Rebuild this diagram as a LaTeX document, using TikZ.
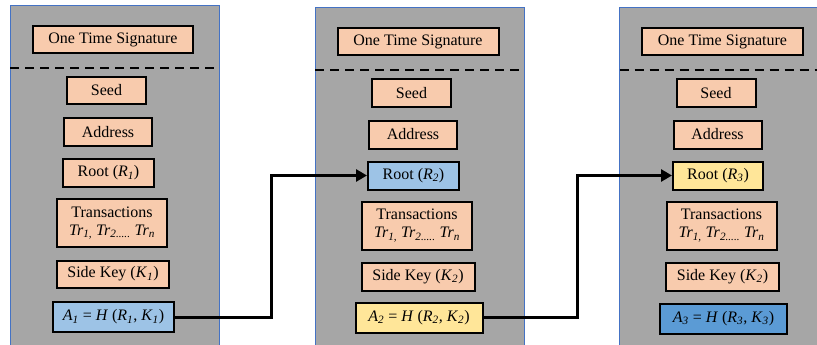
\documentclass[tikz,border=0pt]{standalone}
\usepackage{fontspec}
\setmainfont{Liberation Serif}
\usetikzlibrary{arrows.meta,calc}
\definecolor{gris}{HTML}{A6A6A6}
\definecolor{borde}{HTML}{4472C4}
\definecolor{salmon}{HTML}{F8CBAD}
\definecolor{celeste}{HTML}{9DC3E6}
\definecolor{amarillo}{HTML}{FFE699}
\definecolor{azul}{HTML}{5B9BD5}
\newcommand{\vsub}[2]{\textit{#1}\textsubscript{\textit{#2}}}
\tikzset{
  panel/.style={fill=gris,draw=borde,line width=0.8pt},
  caja/.style={draw=black,line width=2pt,fill=salmon,inner sep=0pt,minimum height=27pt,
    align=center,font=\fontsize{16}{18}\selectfont},
  corte/.style={line width=2pt,dash pattern=on 9pt off 6pt},
  flecha/.style={line width=3pt,-{Triangle[length=11pt,width=12pt]}}
}
\begin{document}
\begin{tikzpicture}[x=1pt,y=-1pt]
    \useasboundingbox (0,0) rectangle (817,345);
    \clip (0,0) rectangle (817,345);
    % Panel 1
    \begin{scope}[shift={(10,5)}]
      \draw[panel] (0,0) rectangle (209,350);
      \draw[corte] (0,63) -- (209,63);
      \node[caja,minimum width=160pt] (ots1) at (103,34.5) {One Time Signature};
      \node[caja,minimum width=79pt] (seed1) at (96.5,85.5) {Seed};
      \node[caja,minimum width=88pt,minimum height=28pt] (addr1) at (98,127) {Address};
      \node[caja,minimum width=91pt,minimum height=28pt] (root1) at (98.5,168) {Root (\vsub{R}{1})};
      \node[caja,minimum width=110pt,minimum height=48pt] (tr1) at (102,218) {Transactions\\\vsub{Tr}{1,} \vsub{Tr}{2.....} \vsub{Tr}{n}};
      \node[caja,minimum width=112pt] (key1) at (103,269) {Side Key (\vsub{K}{1})};
      \node[caja,fill=celeste,minimum width=121pt,minimum height=30pt] (hash1) at (103.5,312) {\vsub{A}{1} = \textit{H} (\vsub{R}{1}, \vsub{K}{1})};
    \end{scope}
    % Panel 2
    \begin{scope}[shift={(315,7.5)}]
      \draw[panel] (0,0) rectangle (209,350);
      \draw[corte] (0,62.5) -- (209,62.5);
      \node[caja,minimum width=161pt] (ots2) at (103,34.5) {One Time Signature};
      \node[caja,minimum width=79pt] (seed2) at (96.5,85.5) {Seed};
      \node[caja,minimum width=88pt,minimum height=28pt] (addr2) at (98,127) {Address};
      \node[caja,fill=celeste,minimum width=91pt,minimum height=28pt] (root2) at (98.5,168) {Root (\vsub{R}{2})};
      \node[caja,minimum width=110pt,minimum height=48pt] (tr2) at (102,218) {Transactions\\\vsub{Tr}{1,} \vsub{Tr}{2.....} \vsub{Tr}{n}};
      \node[caja,minimum width=113pt,minimum height=28pt] (key2) at (103,269) {Side Key (\vsub{K}{2})};
      \node[caja,fill=amarillo,minimum width=127pt,minimum height=30pt] (hash2) at (104,310) {\vsub{A}{2} = \textit{H} (\vsub{R}{2}, \vsub{K}{2})};
    \end{scope}
    % Panel 3
    \begin{scope}[shift={(619.5,7.5)}]
      \draw[panel] (0,0) rectangle (209,350);
      \draw[corte] (0,62.5) -- (209,62.5);
      \node[caja,minimum width=161pt] (ots3) at (103,34.5) {One Time Signature};
      \node[caja,minimum width=79pt] (seed3) at (96.5,85.5) {Seed};
      \node[caja,minimum width=88pt,minimum height=28pt] (addr3) at (98,127) {Address};
      \node[caja,fill=amarillo,minimum width=90pt,minimum height=28pt] (root3) at (98.5,168) {Root (\vsub{R}{3})};
      \node[caja,minimum width=110pt,minimum height=48pt] (tr3) at (102,218) {Transactions\\\vsub{Tr}{1,} \vsub{Tr}{2.....} \vsub{Tr}{n}};
      \node[caja,minimum width=113pt,minimum height=28pt] (key3) at (103,269) {Side Key (\vsub{K}{2})};
      \node[caja,fill=azul,minimum width=127pt,minimum height=30pt] (hash3) at (104,311) {\vsub{A}{3} = \textit{H} (\vsub{R}{3}, \vsub{K}{3})};
    \end{scope}
    % Flechas
    \draw[flecha] (hash1.east) -| ($(hash1.east)!0.5!(root2.west)$) |- (root2.west);
    \draw[flecha] (hash2.east) -| ($(hash2.east)!0.5!(root3.west)$) |- (root3.west);
  \end{tikzpicture}
\end{document}
